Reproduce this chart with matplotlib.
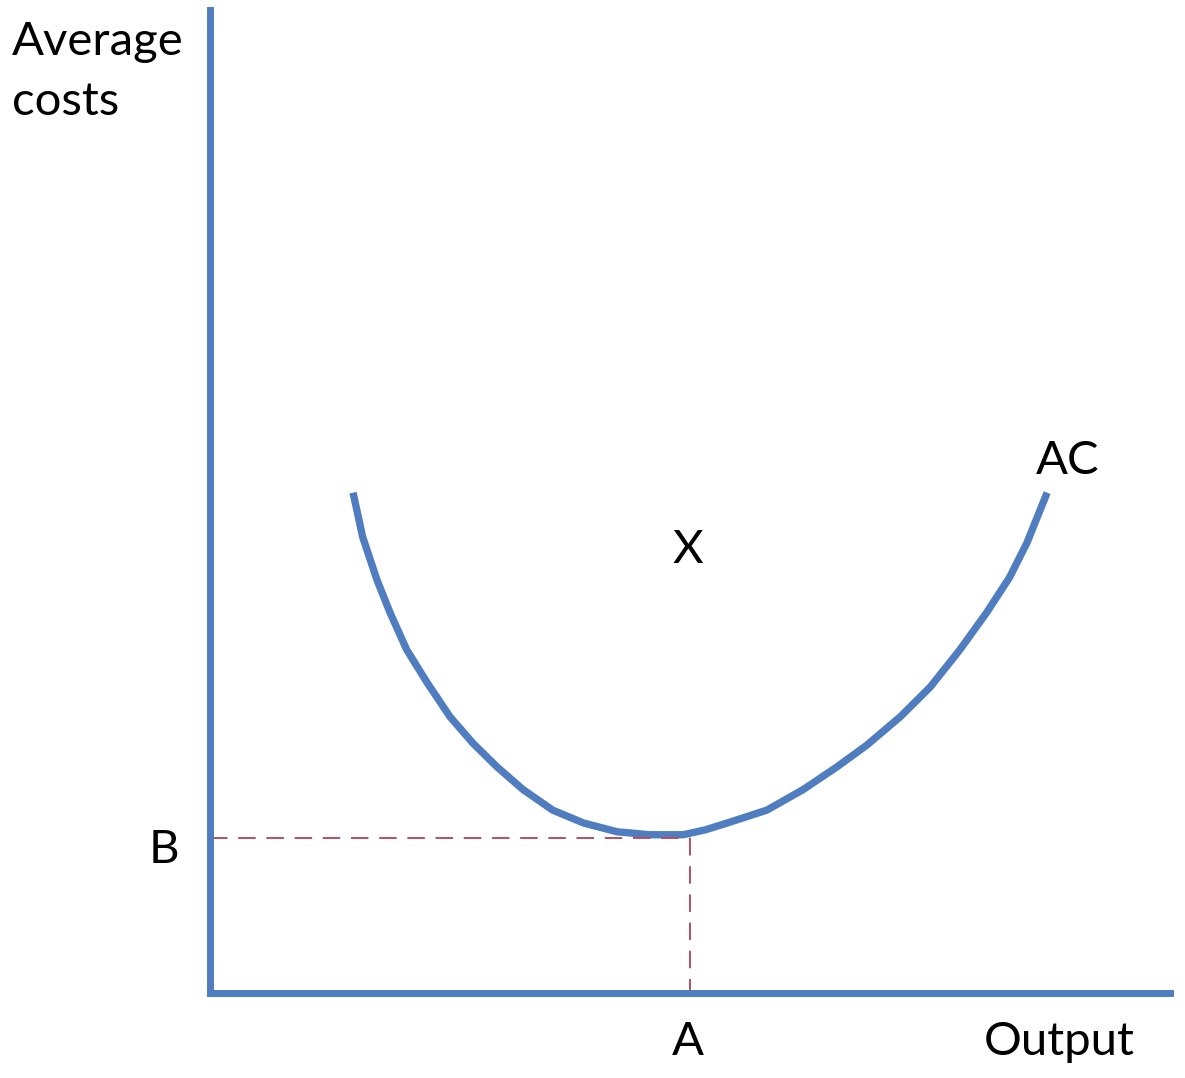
import matplotlib.pyplot as plt
import numpy as np

# average cost curve (output, cost) in 0-100 units
output = [14.9, 15.9, 17.4, 18.75, 20.5, 22.6, 25.0, 27.4, 29.9, 32.6, 35.7, 38.9, 42.4, 45.8, 49.3,
          51.6, 53.9, 58.0, 61.8, 65.3, 68.4, 71.9, 75.0, 78.1, 80.9, 83.3, 85.1, 87.2]
cost = [50.9, 46.4, 42.0, 38.7, 34.9, 31.6, 28.1, 25.4, 23.0, 20.7, 18.6, 17.3, 16.4, 16.1, 16.1,
        16.6, 17.3, 18.6, 20.7, 23.0, 25.2, 28.1, 31.1, 34.9, 38.7, 42.3, 45.8, 50.9]

min_output = 50.0   # A
min_cost = 15.8     # B

blue = '#4f7dc0'
red = '#b5505f'

plt.rcParams['font.family'] = ['Lato', 'DejaVu Sans']

fig = plt.figure(figsize=(11.85, 10.78), dpi=100)
ax = fig.add_axes([210/1185, 1 - 993/1078, 960/1185, 983/1078])
ax.set_xlim(0, 100)
ax.set_ylim(0, 100)

ax.plot(output, cost, color=blue, lw=5.3, solid_capstyle='butt', solid_joinstyle='round', clip_on=False)
ax.plot([0, min_output], [min_cost, min_cost], color=red, lw=1.4, dashes=(9, 5.5), clip_on=False)
ax.plot([min_output, min_output], [min_cost, 0], color=red, lw=1.4, dashes=(9, 5.5), clip_on=False)

for s in ['top', 'right']:
    ax.spines[s].set_visible(False)
for s in ['left', 'bottom']:
    ax.spines[s].set_color(blue)
    ax.spines[s].set_linewidth(5)
ax.set_xticks([])
ax.set_yticks([])

fs = 34
ax.text(-4.8, 13.2, 'B', fontsize=fs, ha='center', va='baseline', clip_on=False)
ax.text(49.8, -6.3, 'A', fontsize=fs, ha='center', va='baseline', clip_on=False)
ax.text(88.5, -6.3, 'Output', fontsize=fs, ha='center', va='baseline', clip_on=False)
ax.text(89.3, 52.8, 'AC', fontsize=fs, ha='center', va='baseline', clip_on=False)
ax.text(49.8, 43.7, 'X', fontsize=fs, ha='center', va='baseline', clip_on=False)
fig.text(12/1185, 1 - 55/1078, 'Average', fontsize=fs, ha='left', va='baseline')
fig.text(12/1185, 1 - 115/1078, 'costs', fontsize=fs, ha='left', va='baseline')

fig.savefig('out.png', dpi=100)
